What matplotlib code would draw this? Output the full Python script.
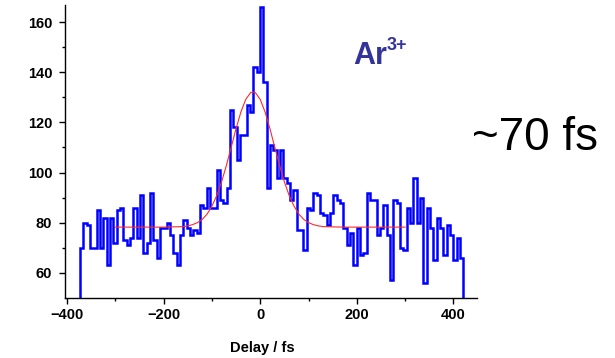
#
# Ar3+ yield versus pump-probe delay, with Gaussian fit
#

import numpy as np
import matplotlib
matplotlib.use("Agg")
import matplotlib.pyplot as plt

# Histogram of the Ar3+ signal (one value per delay bin)
bin_start = -373.0   # fs, left edge of first bin
bin_width = 6.9      # fs
counts = [
    70, 80, 79, 70, 70, 85, 70, 82, 63, 82,
    72, 85, 86, 73, 71, 74, 86, 74, 91, 68,
    72, 92, 73, 66, 78, 78, 80, 75, 68, 63,
    75, 81, 78, 75, 77, 76, 87, 86, 94, 86,
    86, 101, 89, 88, 94, 125, 118, 105, 115, 115,
    127, 124, 142, 140, 166, 136, 94, 111, 109, 98,
    109, 98, 96, 89, 93, 77, 77, 69, 86, 85,
    92, 91, 84, 83, 79, 84, 91, 89, 88, 78,
    71, 76, 63, 78, 67, 68, 92, 89, 89, 75,
    78, 87, 75, 57, 89, 88, 70, 69, 86, 80,
    98, 80, 90, 56, 86, 78, 65, 82, 78, 67,
    79, 75, 65, 74, 66,
]

# Fit curve
fit_delay = [-300, -200, -160, -150, -140, -130, -120, -110, -100, -90,
             -80, -70, -60, -50, -40, -30, -20, -15, -10, 0,
             10, 20, 30, 40, 50, 60, 70, 80, 90, 100,
             110, 120, 130, 170, 300]
fit_value = [78.2, 78.2, 78.4, 78.7, 79.2, 80.0, 81.3, 83.4, 86.6, 90.8,
             96.3, 102.9, 110.2, 117.6, 124.2, 129.2, 131.9, 132.2, 131.9, 129.2,
             124.2, 117.6, 110.2, 102.9, 96.3, 90.8, 86.6, 83.4, 81.3, 80.0,
             79.2, 78.7, 78.4, 78.2, 78.2]

x_ticks = [-400, -200, 0, 200, 400]
y_ticks = [60, 80, 100, 120, 140, 160]


def main():
    plt.rcParams["font.family"] = ["Liberation Sans", "DejaVu Sans"]

    fig = plt.figure(figsize=(6.15, 3.58), dpi=100)
    ax = fig.add_axes([0.1052, 0.1684, 0.6704, 0.8182])

    edges = bin_start + bin_width * np.arange(len(counts) + 1)
    ax.stairs(counts, edges, baseline=0, color="#0000ff", lw=1.8)
    ax.plot(fit_delay, fit_value, color="#ff2a2a", lw=0.8)

    ax.set_xlim(-405, 449)
    ax.set_ylim(50, 167)

    ax.spines["top"].set_visible(False)
    ax.spines["right"].set_visible(False)
    for side in ["left", "bottom"]:
        ax.spines[side].set_linewidth(1.0)

    ax.set_xticks(x_ticks)
    ax.set_xticks([-300, -100, 100, 300], minor=True)
    ax.set_yticks(y_ticks)
    ax.set_yticks([70, 90, 110, 130, 150], minor=True)
    ax.tick_params(which="major", direction="out", length=4, width=1.0,
                   labelsize=10.5)
    ax.tick_params(axis="y", which="major", pad=5)
    ax.tick_params(which="minor", direction="out", length=2.5, width=1.0)
    for lab in ax.get_xticklabels() + ax.get_yticklabels():
        lab.set_fontweight("bold")

    fig.text(262 / 615, 1 - 348 / 358, "Delay / fs", ha="center", va="center",
             fontsize=10.5, fontweight="bold")

    # species label
    fig.text(353 / 615, 1 - 64 / 358, "Ar", ha="left", va="baseline",
             fontsize=22, fontweight="bold", color="#33339a")
    fig.text(387 / 615, 1 - 50 / 358, "3+", ha="left", va="baseline",
             fontsize=13, fontweight="bold", color="#33339a")

    fig.text(472 / 615, 1 - 150 / 358, "~70 fs", ha="left", va="baseline",
             fontsize=33, color="black")

    fig.savefig("out.png", dpi=100)


if __name__ == "__main__":
    main()
